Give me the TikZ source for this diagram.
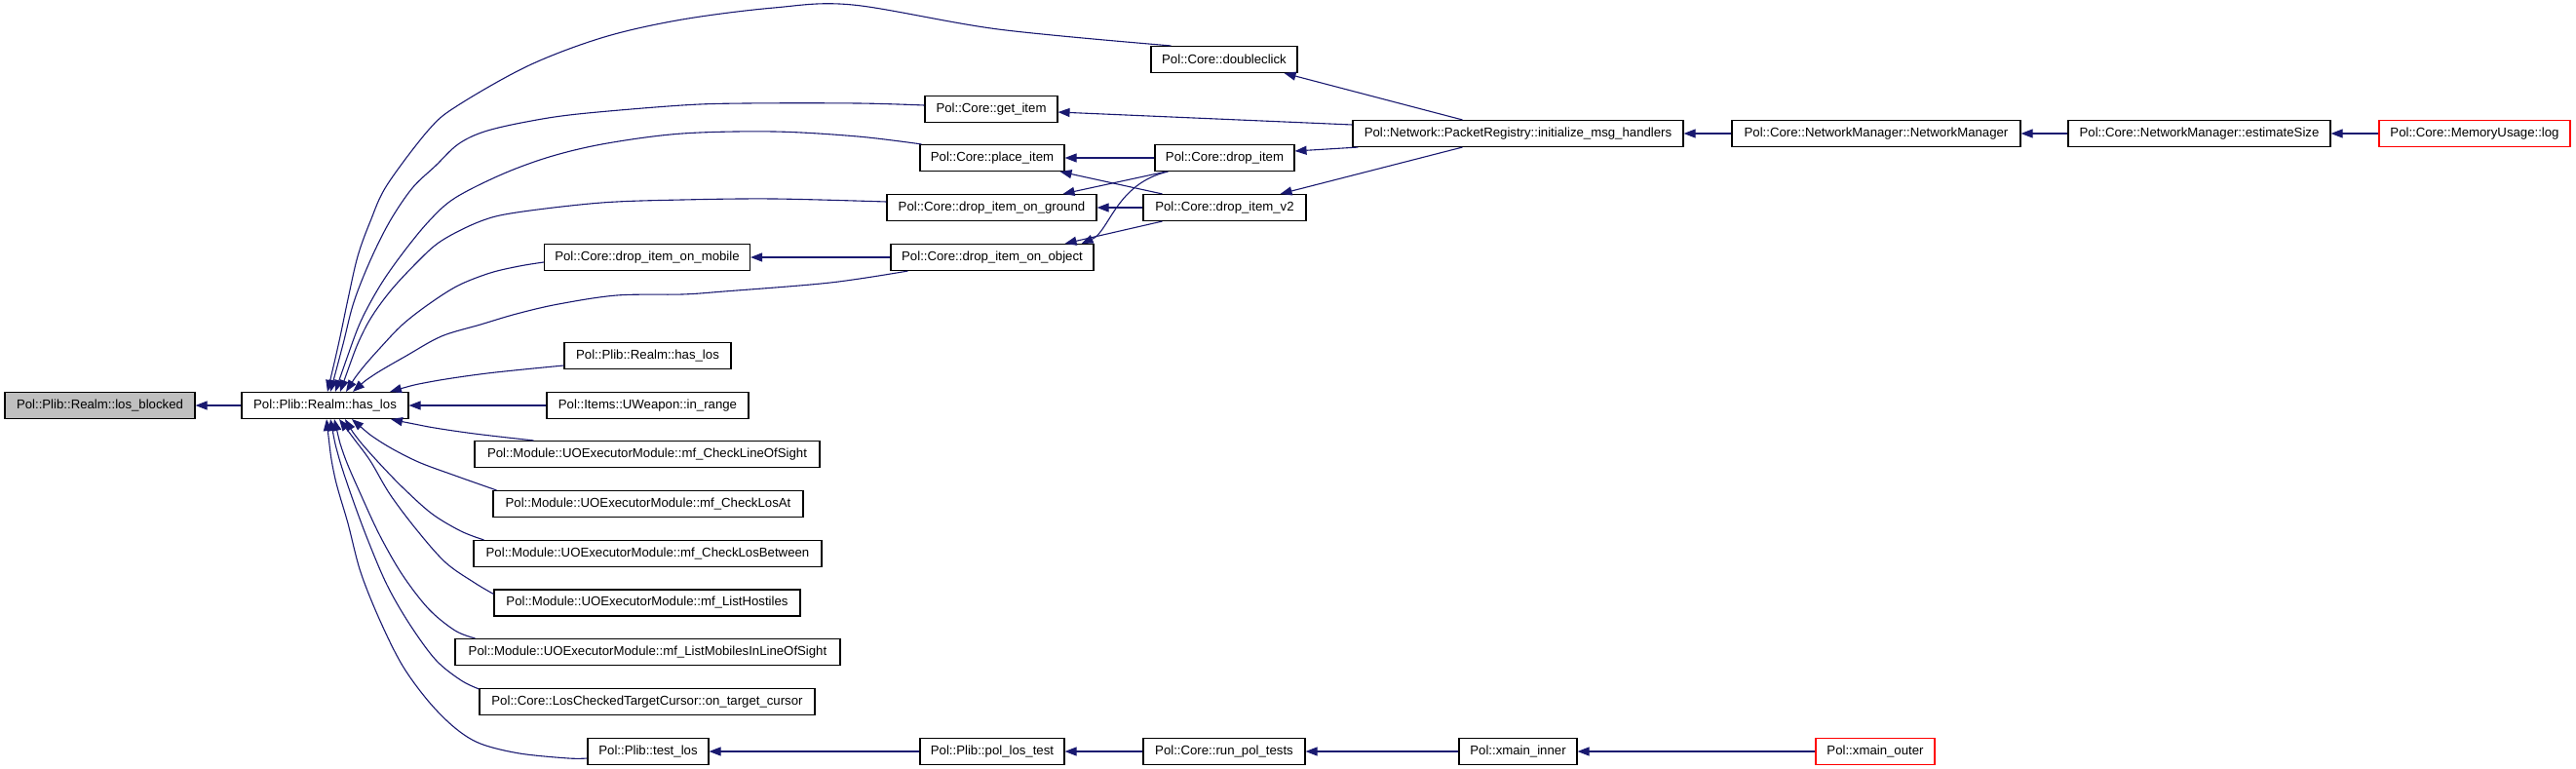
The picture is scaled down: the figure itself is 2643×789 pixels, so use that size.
\documentclass[tikz,border=0pt]{standalone}
\usepackage{fontspec}
\setmainfont{Liberation Sans}
\usetikzlibrary{arrows.meta}
\definecolor{edgec}{HTML}{191970}
\definecolor{lbfill}{HTML}{BFBFBF}
\begin{document}
\begin{tikzpicture}[x=1pt,y=-1pt,
  >={Triangle[length=12pt,width=9pt]},
  box/.style={draw=black, line width=1.1pt, rectangle, minimum height=27pt, inner sep=0pt, font=\fontsize{13.2}{15}\selectfont, fill=white},
  redbox/.style={box, draw=red},
  edge/.style={draw=edgec, line width=1.1pt, <-},
  curvy/.style={smooth, tension=0.55},
]
\useasboundingbox (0,0) rectangle (2643,789);
% column 0/1
\node[box, fill=lbfill, minimum width=195pt] (lb) at (102.5,416) {Pol::Plib::Realm::los\_blocked};
\node[box, minimum width=171pt] (hl) at (333.5,416) {Pol::Plib::Realm::has\_los};
% column 2
\node[box, minimum width=211pt] (mob) at (664,264) {Pol::Core::drop\_item\_on\_mobile};
\node[box, minimum width=171pt] (hl2) at (664.5,365) {Pol::Plib::Realm::has\_los};
\node[box, minimum width=207pt] (ir) at (664.5,416) {Pol::Items::UWeapon::in\_range};
\node[box, minimum width=354pt] (clos) at (664,466) {Pol::Module::UOExecutorModule::mf\_CheckLineOfSight};
\node[box, minimum width=318pt] (cla) at (665,517) {Pol::Module::UOExecutorModule::mf\_CheckLosAt};
\node[box, minimum width=357pt] (clb) at (664.5,568) {Pol::Module::UOExecutorModule::mf\_CheckLosBetween};
\node[box, minimum width=314pt] (lh) at (664,618.5) {Pol::Module::UOExecutorModule::mf\_ListHostiles};
\node[box, minimum width=395pt] (lm) at (664.5,669) {Pol::Module::UOExecutorModule::mf\_ListMobilesInLineOfSight};
\node[box, minimum width=344pt] (lc) at (664,720) {Pol::Core::LosCheckedTargetCursor::on\_target\_cursor};
\node[box, minimum width=124pt] (tl) at (665,771) {Pol::Plib::test\_los};
% column 3
\node[box, minimum width=136pt] (gi) at (1017,112) {Pol::Core::get\_item};
\node[box, minimum width=148pt] (pi) at (1018,162) {Pol::Core::place\_item};
\node[box, minimum width=215pt] (gr) at (1017.5,213) {Pol::Core::drop\_item\_on\_ground};
\node[box, minimum width=208pt] (obj) at (1018,264) {Pol::Core::drop\_item\_on\_object};
\node[box, minimum width=148pt] (plt) at (1018,771) {Pol::Plib::pol\_los\_test};
% column 4
\node[box, minimum width=150pt] (dc) at (1256,61) {Pol::Core::doubleclick};
\node[box, minimum width=143pt] (di) at (1256.5,162) {Pol::Core::drop\_item};
\node[box, minimum width=167pt] (v2) at (1256.5,213) {Pol::Core::drop\_item\_v2};
\node[box, minimum width=166pt] (run) at (1256,771) {Pol::Core::run\_pol\_tests};
% column 5+
\node[box, minimum width=339pt] (init) at (1557.5,137) {Pol::Network::PacketRegistry::initialize\_msg\_handlers};
\node[box, minimum width=121pt] (xi) at (1557.5,771) {Pol::xmain\_inner};
\node[box, minimum width=296pt] (nm) at (1925,137) {Pol::Core::NetworkManager::NetworkManager};
\node[redbox, minimum width=122pt] (xo) at (1924,771) {Pol::xmain\_outer};
\node[box, minimum width=269pt] (es) at (2256.5,137) {Pol::Core::NetworkManager::estimateSize};
\node[redbox, minimum width=196pt] (ml) at (2539,137) {Pol::Core::MemoryUsage::log};

% straight edges
\draw[edge] (lb.east) -- (hl.west);
\draw[edge] (hl.east) -- (ir.west);
\draw[edge] (pi.east) -- (di.west);
\draw[edge] (gr.east) -- (v2.west);
\draw[edge] (mob.east) -- (obj.west);
\draw[edge] ([xshift=-35pt]gr.north east) -- ([xshift=12pt]di.south west);
\draw[edge] ([xshift=-5pt]pi.south east) -- ([xshift=20pt]v2.north west);
\draw[edge] ([xshift=-30pt]obj.north east) -- ([xshift=20pt]v2.south west);
\draw[edge] ([xshift=-13pt]obj.north east) .. controls (1138,238) and (1145,188) .. ([xshift=14pt]di.south west);
\draw[edge] ([xshift=-14pt]dc.south east) -- ([xshift=113pt]init.north west);
\draw[edge] ([yshift=-3pt]gi.east) -- ([yshift=9pt]init.west);
\draw[edge] ([yshift=7pt]di.east) -- ([xshift=6pt]init.south west);
\draw[edge] ([xshift=-27pt]v2.north east) -- ([xshift=113pt]init.south west);
\draw[edge] (init.east) -- (nm.west);
\draw[edge] (nm.east) -- (es.west);
\draw[edge] (es.east) -- (ml.west);
\draw[edge] (tl.east) -- (plt.west);
\draw[edge] (plt.east) -- (run.west);
\draw[edge] (run.east) -- (xi.west);
\draw[edge] (xi.east) -- (xo.west);

% curved edges into has_los (top)
\draw[edge] plot[curvy] coordinates {([xshift=2.5pt]hl.north) (348,350) (357,307) (367,263) (380,227) (397,190) (440,133) (470,108) (543,67) (620,38) (700,20) (794,8) (875,5) (1024,30) ([xshift=21pt]dc.north west)};
\draw[edge] plot[curvy] coordinates {([xshift=5.5pt]hl.north) (352,353) (363,310) (380,267) (400,227) (423,193) (447,170) (470,148) (497,135) (540,125) (593,117) (700,108) (766,106) (880,106) ([yshift=4pt]gi.west)};
\draw[edge] plot[curvy] coordinates {([xshift=10.5pt]hl.north) (355,370) (370,330) (390,293) (413,260) (440,227) (467,203) (517,178) (567,160) (623,147) (700,137) (794,135) (880,140) ([xshift=2pt]pi.north west)};
\draw[edge] plot[curvy] coordinates {([xshift=15.5pt]hl.north) (373,340) (397,303) (427,270) (453,247) (493,227) (530,218) (617,208) (700,205) (794,204) ([yshift=6pt]gr.west)};
\draw[edge] plot[curvy] coordinates {([xshift=21.5pt]hl.north) (370,380) (390,357) (413,333) (440,312) (470,293) (503,280) (533,273) ([yshift=-5pt]mob.west)};
\draw[edge] plot[curvy] coordinates {([xshift=28.5pt]hl.north) (383,385) (417,365) (453,345) (493,333) (530,322) (573,312) (633,303) (700,302) (743,299) (852,290) ([xshift=18pt]obj.south west)};
\draw[edge] plot[curvy] coordinates {([xshift=66.5pt]hl.north) (440,392) (500,383) ([yshift=-10pt]hl2.west)};
% curved edges into has_los (bottom)
\draw[edge] plot[curvy] coordinates {([xshift=67.5pt]hl.south) (440,438) (487,445) ([xshift=61pt]clos.north west)};
\draw[edge] plot[curvy] coordinates {([xshift=27.5pt]hl.south) (390,453) (427,473) (467,488) ([xshift=4pt]cla.north west)};
\draw[edge] plot[curvy] coordinates {([xshift=20.5pt]hl.south) (367,450) (387,473) (413,500) (443,527) (473,545) ([xshift=11pt]clb.north west)};
\draw[edge] plot[curvy] coordinates {([xshift=14.5pt]hl.south) (363,450) (380,473) (400,507) (427,543) (457,577) (487,598) ([yshift=9pt]lh.west)};
\draw[edge] plot[curvy] coordinates {([xshift=9.5pt]hl.south) (353,467) (370,507) (390,550) (413,590) (440,625) (467,647) ([xshift=21pt]lm.north west)};
\draw[edge] plot[curvy] coordinates {([xshift=5.5pt]hl.south) (347,467) (360,507) (377,553) (397,600) (420,640) (447,677) (473,698) ([yshift=-1pt]lc.north west)};
\draw[edge] plot[curvy] coordinates {([xshift=1.5pt]hl.south) (343,487) (357,537) (370,587) (390,637) (413,683) (440,720) (467,747) (493,763) (533,773) (583,778) ([yshift=-7pt]tl.west)};
\end{tikzpicture}
\end{document}
